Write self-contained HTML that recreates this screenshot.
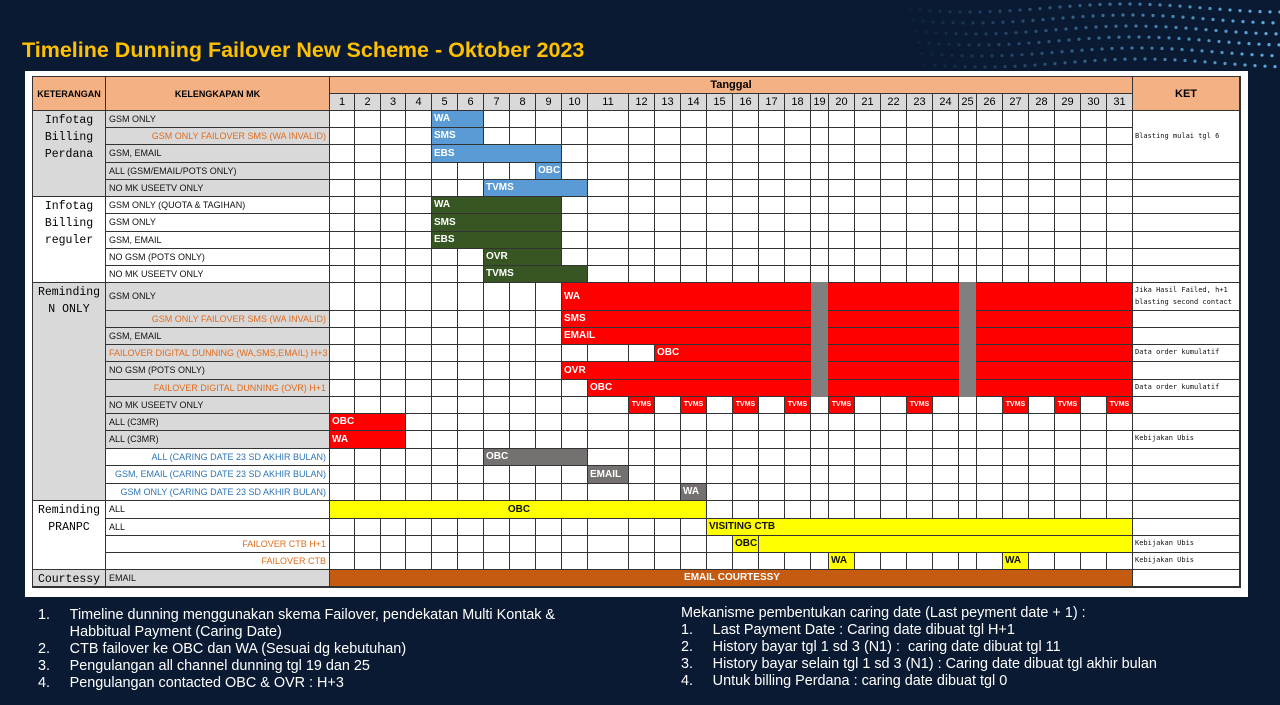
<!DOCTYPE html>
<html><head><meta charset="utf-8">
<style>
body{margin:0;width:1280px;height:705px;background:#0a1a33;position:relative;overflow:hidden;font-family:"Liberation Sans",sans-serif}
.abs{position:absolute;box-sizing:border-box}
#title{left:22px;top:38px;color:#ffc000;font-weight:bold;font-size:21.5px}
#panel{left:25px;top:71px;width:1223px;height:526px;background:#fff}
.c{position:absolute;box-sizing:border-box;border-right:1px solid #333;border-bottom:1px solid #333;font-family:"Liberation Mono",monospace}
.t{font-family:"Liberation Sans",sans-serif;font-size:9px;white-space:nowrap;overflow:hidden}
.bar{position:absolute;font-family:"Liberation Sans",sans-serif;font-size:10px;color:#fff;white-space:nowrap;padding-left:2px;box-sizing:border-box;font-weight:bold}
.notes{color:#fff;font-size:15px;line-height:17px;transform:scaleX(0.96);transform-origin:left top;white-space:nowrap}
.notes div{position:relative;height:17px}
.notes span{position:absolute;left:33px;top:0;white-space:nowrap}
</style></head><body>
<svg class="abs" style="left:880px;top:0" width="400" height="80" id="dots"></svg>
<div id="title" class="abs">Timeline Dunning Failover New Scheme - Oktober 2023</div>
<div id="panel" class="abs"></div>
<div id="grid" class="abs" style="left:0;top:0"></div>

<div class="abs notes" style="left:38px;top:606px">
<div>1.<span>Timeline dunning menggunakan skema Failover, pendekatan Multi Kontak &amp;</span></div>
<div><span>Habbitual Payment (Caring Date)</span></div>
<div>2.<span>CTB failover ke OBC dan WA (Sesuai dg kebutuhan)</span></div>
<div>3.<span>Pengulangan all channel dunning tgl 19 dan 25</span></div>
<div>4.<span>Pengulangan contacted OBC &amp; OVR : H+3</span></div>
</div>
<div class="abs notes" style="left:681px;top:604px">
<div>Mekanisme pembentukan caring date (Last peyment date + 1) :</div>
<div>1.<span>Last Payment Date : Caring date dibuat tgl H+1</span></div>
<div>2.<span>History bayar tgl 1 sd 3 (N1) :&nbsp; caring date dibuat tgl 11</span></div>
<div>3.<span>History bayar selain tgl 1 sd 3 (N1) : Caring date dibuat tgl akhir bulan</span></div>
<div>4.<span>Untuk billing Perdana : caring date dibuat tgl 0</span></div>
</div>

<script>
// ---- data ----
const days = [1,2,3,4,5,6,7,8,9,10,11,12,13,14,15,16,17,18,19,20,21,22,23,24,25,26,27,28,29,30,31];
const dayWidths = [25,26,25,26,26,26,26,26,26,26,41,26,26,26,26,26,26,26,18,26,26,26,26,26,18,26,26,26,26,26,26];
const rowHeights = [17,17,18,17,17,17,18,17,17,17,28,17,17,17,18,17,17,17,18,17,18,17,18,17,17,17,17];
const groupNames = ["Infotag\nBilling\nPerdana","Infotag\nBilling\nreguler","Reminding\nN ONLY","Reminding\nPRANPC","Courtessy"];
const groupStart = [0,5,10,22,26];
const groupEnd = [4,9,21,25,26];
const groupGray = [true,false,true,false,true];
const mkLabels = ["GSM ONLY","GSM ONLY FAILOVER SMS (WA INVALID)","GSM, EMAIL","ALL (GSM/EMAIL/POTS ONLY)","NO MK USEETV ONLY",
"GSM ONLY (QUOTA & TAGIHAN)","GSM ONLY","GSM, EMAIL","NO GSM (POTS ONLY)","NO MK USEETV ONLY",
"GSM ONLY","GSM ONLY FAILOVER SMS (WA INVALID)","GSM, EMAIL","FAILOVER DIGITAL DUNNING (WA,SMS,EMAIL) H+3","NO GSM (POTS ONLY)","FAILOVER DIGITAL DUNNING (OVR) H+1","NO MK USEETV ONLY","ALL (C3MR)","ALL (C3MR)",
"ALL (CARING DATE 23 SD AKHIR BULAN)","GSM, EMAIL (CARING DATE 23 SD AKHIR BULAN)","GSM ONLY  (CARING DATE 23 SD AKHIR BULAN)",
"ALL","ALL","FAILOVER CTB H+1","FAILOVER CTB","EMAIL"];
const mkStyle = ["k","o","k","k","k","k","k","k","k","k","k","o","k","o","k","o","k","k","k","b","b","b","k","k","o","o","k"];
const mkGray = [1,1,1,1,1,0,0,0,0,0,1,1,1,1,1,1,1,1,1,0,0,0,0,0,0,0,1];
const ketRows = [1,10,13,15,18,24,25];
const ketTexts = ["Blasting mulai tgl 6","Jika Hasil Failed, h+1\nblasting second contact","Data order kumulatif","Data order kumulatif","Kebijakan Ubis","Kebijakan Ubis","Kebijakan Ubis"];
// bars
const barRows =   [0,1,2,3,4, 5,6,7,8,9, 10,11,12,13,14,15, 17,18, 19,20,21, 22,23,24,25,25, 26];
const barStart =  [5,5,5,9,7, 5,5,5,7,7, 10,10,10,13,10,11, 1,1, 7,11,14, 1,15,16,20,27, 1];
const barEnd =    [6,6,9,9,10,9,9,9,9,10, 31,31,31,31,31,31, 3,3, 10,11,14, 14,31,31,20,27, 31];
const barLabels = ["WA","SMS","EBS","OBC","TVMS","WA","SMS","EBS","OVR","TVMS","WA","SMS","EMAIL","OBC","OVR","OBC","OBC","WA","OBC","EMAIL","WA","OBC","VISITING CTB","OBC","WA","WA","EMAIL COURTESSY"];
const barColors = ["blue","blue","blue","blue","blue","green","green","green","green","green","red","red","red","red","red","red","red","red","gray","gray","gray","yellow","yellow","yellow","yellow","yellow","orange"];
const grayDays = [19,25];
const grayRows = [10,11,12,13,14,15];
const tvmsDays = [12,14,16,18,20,23,27,29,31];
const tvmsRow = 16;

// ---- layout ----
const palette={blue:"#5b9bd5",green:"#375623",red:"#fe0000",gray:"#767171",yellow:"#ffff00",orange:"#c55a11"};
const X0=330, Y0=111, HX=77, KL=33, ML=106, KETW=107;
const colL=[];let x=X0;dayWidths.forEach(w=>{colL.push(x);x+=w});const XE=x;
const rowT=[];let y=Y0;rowHeights.forEach(h=>{rowT.push(y);y+=h});const YE=y;
const dx=d=>colL[d-1], dw=d=>dayWidths[d-1];
const g=document.getElementById('grid');
function box(l,t,w,h,cls,bg){const e=document.createElement('div');e.className=cls;e.style.left=l+'px';e.style.top=t+'px';e.style.width=w+'px';e.style.height=h+'px';if(bg)e.style.background=bg;g.appendChild(e);return e;}
const ob=box(KL-1,HX-1,XE+KETW-KL+2,YE-HX+2,'abs');ob.style.border='1px solid #333';


let e=box(KL,HX,ML-KL,Y0-HX,'c t','#f4b183');e.textContent='KETERANGAN';e.style.cssText+=';font-size:9px;font-weight:bold;display:flex;align-items:center;justify-content:center';


e=box(ML,HX,X0-ML,Y0-HX,'c t','#f4b183');e.textContent='KELENGKAPAN MK';e.style.cssText+=';font-size:9px;font-weight:bold;display:flex;align-items:center;justify-content:center';


e=box(X0,HX,XE-X0,17,'c t','#f4b183');e.textContent='Tanggal';e.style.cssText+=';font-size:11px;font-weight:bold;text-align:center;line-height:16px';


e=box(XE,HX,KETW,Y0-HX,'c t','#f4b183');e.textContent='KET';e.style.cssText+=';font-size:11px;font-weight:bold;display:flex;align-items:center;justify-content:center';


days.forEach((d,i)=>{const c=box(colL[i],HX+17,dayWidths[i],Y0-HX-17,'c t','#d9d9d9');c.textContent=d;c.style.cssText+=';font-size:11px;text-align:center;line-height:16px';

});
groupNames.forEach((n,i)=>{const t=rowT[groupStart[i]],b=groupEnd[i]+1<rowT.length?rowT[groupEnd[i]+1]:YE;
const c=box(KL,t,ML-KL,b-t,'c',groupGray[i]?'#d9d9d9':'#fff');c.style.cssText+=';font-size:11.5px;text-align:center;white-space:pre;line-height:17px;padding-top:1px';c.textContent=n;

});
const mkCol={k:'#111',o:'#e06c1f',b:'#2e75b6'};
mkLabels.forEach((m,r)=>{const c=box(ML,rowT[r],X0-ML,rowHeights[r],'c t',mkGray[r]?'#d9d9d9':'#fff');c.textContent=m;c.style.color=mkCol[mkStyle[r]];
c.style.lineHeight=(rowHeights[r]-1)+'px';c.style.padding='0 3px';c.style.textAlign=mkStyle[r]==='k'?'left':'right';


days.forEach((d,i)=>{box(colL[i],rowT[r],dayWidths[i],rowHeights[r],'c','#fff');});
if(r>2){box(XE,rowT[r],KETW,rowHeights[r],'c','#fff');}
});
box(XE,rowT[0],KETW,rowT[3]-rowT[0],'c','#fff');
ketRows.forEach((r,i)=>{const k=document.createElement('div');k.className='abs';k.style.cssText=`left:${XE+2}px;top:${rowT[r]+(r===1?2:1)}px;font-family:"DejaVu Sans Mono",monospace;font-size:7px;white-space:pre;line-height:13px;color:#111`;
if(r===10)k.style.lineHeight='12px';
k.textContent=ketTexts[i];g.appendChild(k);

});
function bar(r,s,en,col,label,name,center){const l=dx(s),w=dx(en)+dw(en)-l;const b=document.createElement('div');b.className='bar';
b.style.cssText+=`;left:${l}px;top:${rowT[r]}px;width:${w-1}px;height:${rowHeights[r]-1}px;background:${palette[col]};line-height:${rowHeights[r]-1}px`;
if(col==='yellow')b.style.color='#111';if(center)b.style.textAlign='center';b.textContent=label;g.appendChild(b);

}
barRows.forEach((r,i)=>{let lab=barLabels[i],cent=false;
if(r===22)cent=true;
if(r===26)cent=true;
bar(r,barStart[i],barEnd[i],barColors[i],lab,'bar-'+barLabels[i].toLowerCase().replace(/ /g,'-'),cent);
});
{const l=dx(16);box(l+dw(16)-1,rowT[24],1,rowHeights[24]-1,'abs','#333');}
grayRows.forEach(r=>grayDays.forEach(d=>{const b=box(dx(d),rowT[r]-1,dw(d)-1,rowHeights[r]+1,'abs','#808080');

}));
tvmsDays.forEach(d=>{const l=dx(d);const b=document.createElement('div');b.className='bar';b.style.cssText+=`;left:${l}px;top:${rowT[tvmsRow]}px;width:${dw(d)-1}px;height:${rowHeights[tvmsRow]-1}px;background:#fe0000;font-size:7px;line-height:16px;text-align:center;padding:0`;b.textContent='TVMS';g.appendChild(b);

});
const sv=document.getElementById('dots');let s='';
for(let j=0;j<6;j++)for(let i=0;i<40;i++){const cx=10+i*10+j*3,cy=8+j*11+Math.sin(i/5)*4;const op=Math.max(0,(i/40)*0.9);s+=`<circle cx="${cx}" cy="${cy}" r="1.6" fill="#6ec6ff" opacity="${op.toFixed(2)}"/>`;}
sv.innerHTML=s;
</script>
</body></html>
